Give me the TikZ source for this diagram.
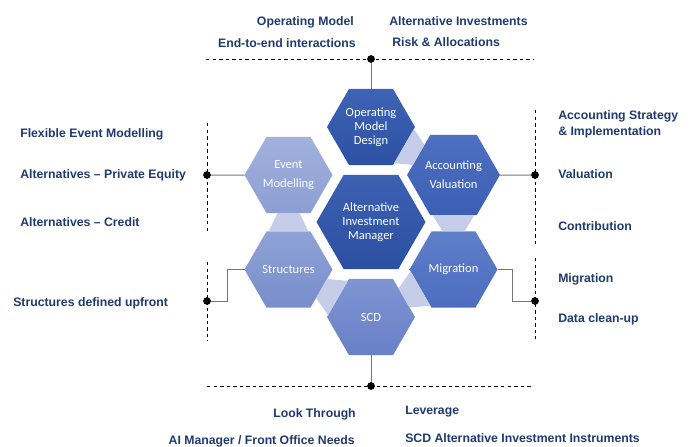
\documentclass[tikz,border=0pt]{standalone}
\usepackage{fontspec}
\setmainfont{Liberation Sans}
\newfontfamily\hexfont{Carlito}
\usetikzlibrary{shapes.geometric,calc}
\definecolor{navy}{HTML}{1F3A70}
\definecolor{bridgec}{HTML}{C6CDE9}
\definecolor{connc}{HTML}{767676}
\definecolor{HexOpT}{HTML}{3F63B4}
\definecolor{HexOpB}{HTML}{2C51A3}
\definecolor{HexCtT}{HTML}{3D60B2}
\definecolor{HexCtB}{HTML}{2B4FA1}
\definecolor{HexEvT}{HTML}{A2B2DD}
\definecolor{HexEvB}{HTML}{8C9ED3}
\definecolor{HexAcT}{HTML}{4D70C2}
\definecolor{HexAcB}{HTML}{3C5FB4}
\definecolor{HexStT}{HTML}{8FA2D7}
\definecolor{HexStB}{HTML}{788DCB}
\definecolor{HexMgT}{HTML}{5F7FCA}
\definecolor{HexMgB}{HTML}{4C6CBE}
\definecolor{HexScT}{HTML}{7E95D2}
\definecolor{HexScB}{HTML}{6880C6}
\begin{document}
\begin{tikzpicture}[x=0.75pt,y=-0.75pt,
  hexa/.style={regular polygon, regular polygon sides=6, inner sep=0pt, outer sep=0pt,
    draw=none, text=white, align=center, font=\hexfont\fontsize{9.4}{10.5}\selectfont,
    minimum size=66pt},
  lbl/.style={font=\bfseries\fontsize{9.2}{12}\selectfont, text=navy, inner sep=0pt},
  dline/.style={black, line width=0.75pt, dash pattern=on 2.6pt off 2.3pt},
  conn/.style={connc, line width=0.75pt},
  dotn/.style={circle, fill=black, inner sep=0pt, minimum size=5.8pt},
  bridge/.style={fill=bridgec, draw=none}]
\useasboundingbox (0,0) rectangle (692,446);

% hexagons
\node[hexa, top color=HexOpT, bottom color=HexOpB] (op) at (371,127) {Operating\\Model\\Design};
\node[hexa, minimum size=81.75pt, top color=HexCtT, bottom color=HexCtB] (ct) at (371,222) {Alternative\\Investment\\Manager};
\node[hexa, top color=HexEvT, bottom color=HexEvB] (ev) at (288.5,175) {Event\\[3.5pt]Modelling};
\node[hexa, top color=HexAcT, bottom color=HexAcB] (ac) at (453.5,175) {Accounting\\[3.5pt]Valuation};
\node[hexa, top color=HexStT, bottom color=HexStB] (st) at (288.5,269.5) {Structures};
\node[hexa, top color=HexMgT, bottom color=HexMgB] (mg) at (453.5,269.5) {Migration};
\node[hexa, top color=HexScT, bottom color=HexScB] (sc) at (371,317) {SCD};

% bridges
\fill[bridge] ($(op.0)!0.05!(op.300)$) -- ($(op.0)!0.95!(op.300)$) -- ($(ac.120)!0.75!(ac.180)$) -- ($(ac.120)!0.25!(ac.180)$) -- cycle;
\fill[bridge] ($(ac.240)!0.05!(ac.300)$) -- ($(ac.240)!0.95!(ac.300)$) -- ($(mg.120)!0.75!(mg.60)$) -- ($(mg.120)!0.25!(mg.60)$) -- cycle;
\fill[bridge] ($(mg.180)!0.05!(mg.240)$) -- ($(mg.180)!0.95!(mg.240)$) -- ($(sc.60)!0.75!(sc.0)$) -- ($(sc.60)!0.25!(sc.0)$) -- cycle;
\fill[bridge] ($(sc.120)!0.05!(sc.180)$) -- ($(sc.120)!0.95!(sc.180)$) -- ($(st.0)!0.75!(st.300)$) -- ($(st.0)!0.25!(st.300)$) -- cycle;
\fill[bridge] ($(st.120)!0.05!(st.60)$) -- ($(st.120)!0.95!(st.60)$) -- ($(ev.240)!0.75!(ev.300)$) -- ($(ev.240)!0.25!(ev.300)$) -- cycle;

% dashed guide lines
\coordinate (tl) at (206,59);  \coordinate (tr) at (533,59);
\coordinate (bl) at (207,386); \coordinate (br) at (533,386);
\coordinate (l1a) at (207,123); \coordinate (l1b) at (207,231);
\coordinate (l2a) at (207,262); \coordinate (l2b) at (207,341);
\coordinate (r1a) at (535,110); \coordinate (r1b) at (535,244);
\coordinate (r2a) at (535,258); \coordinate (r2b) at (535,339);
\draw[dline] (tl) -- (tr);
\draw[dline] (bl) -- (br);
\draw[dline] (l1a) -- (l1b);
\draw[dline] (l2a) -- (l2b);
\draw[dline] (r1a) -- (r1b);
\draw[dline] (r2a) -- (r2b);

% dots and connectors
\node[dotn] (dt) at (371,59) {};
\node[dotn] (db) at (371,386) {};
\node[dotn] (dl1) at (207,175) {};
\node[dotn] (dl2) at (207,301) {};
\node[dotn] (dr1) at (535,175) {};
\node[dotn] (dr2) at (535,301) {};
\draw[conn] (dt) -- (op.north);
\draw[conn] (sc.south) -- (db);
\draw[conn] (dl1) -- (ev.west);
\draw[conn] (ac.east) -- (dr1);
\draw[conn] (dl2) -- ++(20,0) |- (st.west);
\draw[conn] (mg.east) -- ++(15,0) |- (dr2);

% labels
\node[lbl, anchor=base east] (t1) at (354,25.5) {Operating Model};
\node[lbl, anchor=base east] (t2) at (356,47.5) {End-to-end interactions};
\node[lbl, anchor=base west] (t3) at (389,25.5) {Alternative Investments};
\node[lbl, anchor=base west] (t4) at (392,46.5) {Risk \& Allocations};
\node[lbl, anchor=base east] (b1) at (356,417.5) {Look Through};
\node[lbl, anchor=base west] (b2) at (405,414.5) {Leverage};
\node[lbl, anchor=base east] (b3) at (355,444) {AI Manager / Front Office Needs};
\node[lbl, anchor=base west] (b4) at (405,442) {SCD Alternative Investment Instruments};
\node[lbl, anchor=base west] (l1) at (20,137.5) {Flexible Event Modelling};
\node[lbl, anchor=base west] (l2) at (20,178.5) {Alternatives – Private Equity};
\node[lbl, anchor=base west] (l3) at (20,226.5) {Alternatives – Credit};
\node[lbl, anchor=base west] (l4) at (13,306.5) {Structures defined upfront};
\node[lbl, anchor=base west] (r1) at (558,119.5) {Accounting Strategy};
\node[lbl, anchor=base west] (r1b) at (558,135.5) {\& Implementation};
\node[lbl, anchor=base west] (r2) at (558,178.5) {Valuation};
\node[lbl, anchor=base west] (r3) at (558,230.5) {Contribution};
\node[lbl, anchor=base west] (r4) at (558,282.5) {Migration};
\node[lbl, anchor=base west] (r5) at (558,322.5) {Data clean-up};
\end{tikzpicture}
\end{document}
